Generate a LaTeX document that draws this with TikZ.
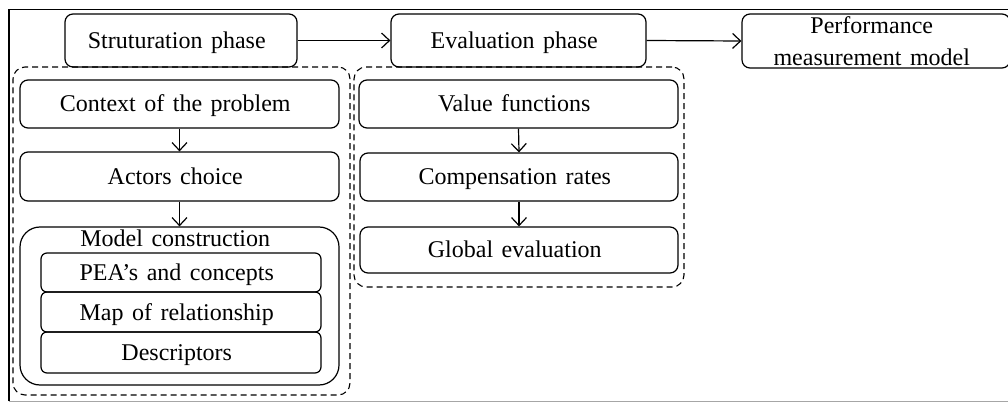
\documentclass[tikz,border=0pt]{standalone}
\usepackage{fontspec}
\setmainfont{Liberation Serif}
\usetikzlibrary{arrows.meta}
\tikzset{
  every node/.style={font=\fontsize{24pt}{32pt}\selectfont},
  box/.style={draw=black, line width=1.2pt, rounded corners=8pt, inner sep=0pt,
    text height=16pt, text depth=0pt, align=center},
  inbox/.style={box, rounded corners=6pt},
  bigbox/.style={draw=black, line width=1.2pt, rounded corners=20pt, inner sep=0pt},
  region/.style={draw=black, line width=1.1pt, dash pattern=on 6pt off 4pt, rounded corners=12pt, inner sep=0pt},
  arr/.style={draw=black, line width=1.2pt, -{Straight Barb[length=8pt,width=15pt,line width=1.2pt]}},
  lbl/.style={inner sep=0pt}
}
\begin{document}
\begin{tikzpicture}[x=1pt,y=-1pt]
\spaceskip=8.5pt plus 2pt minus 1pt\relax
\useasboundingbox (0,0) rectangle (1008,403);
% frame
\draw[line width=1.6pt, black] (9,401) -- (9,9.5) -- (1012,9.5);
\draw[line width=1.6pt, gray!70] (9,401.5) -- (1012,401.5);
% dashed regions
\node[region, minimum width=337pt, minimum height=328pt] (lr) at (181.5,231) {};
\node[region, minimum width=330pt, minimum height=220pt] (rr) at (519,177) {};
% top row
\node[box, minimum width=232pt, minimum height=53pt] (s) at (181,40.5) {Struturation phase};
\node[box, minimum width=255pt, minimum height=53pt] (e) at (518.5,40.5) {Evaluation phase};
\node[draw=black, line width=1.2pt, rounded corners=8pt, inner sep=0pt, align=center,
  minimum width=268pt, minimum height=54pt] (p) at (876,41) {Performance\\measurement model};
% left column
\node[box, minimum width=319pt, minimum height=48pt] (c) at (179.5,104) {Context of the problem};
\node[box, minimum width=319pt, minimum height=49pt] (a) at (179.5,176.5) {Actors choice};
\node[bigbox, minimum width=319pt, minimum height=158pt] (m) at (179.5,306) {};
\node[lbl, anchor=base] (mt) at (179.5,247) {Model construction};
\node[inbox, minimum width=280pt, minimum height=39pt] (pea) at (181,272.5) {PEA’s and concepts};
\node[inbox, minimum width=280pt, minimum height=40pt] (map) at (181,312) {Map of relationship};
\node[inbox, minimum width=280pt, minimum height=41pt] (d) at (181,352.5) {Descriptors};
% right column
\node[box, minimum width=319pt, minimum height=48pt] (v) at (518.5,104) {Value functions};
\node[box, minimum width=318pt, minimum height=48pt] (cr) at (519,177) {Compensation rates};
\node[box, minimum width=318pt, minimum height=46pt] (g) at (519,250) {Global evaluation};
% arrows
\draw[arr] (s.east) -- (e.west);
\draw[arr] (e.east) -- (p.west);
\draw[arr] (c.south) -- (a.north);
\draw[arr] (a.south) -- (m.north);
\draw[arr] (v.south) -- (cr.north);
\draw[arr] (cr.south) -- (g.north);
\end{tikzpicture}
\end{document}
